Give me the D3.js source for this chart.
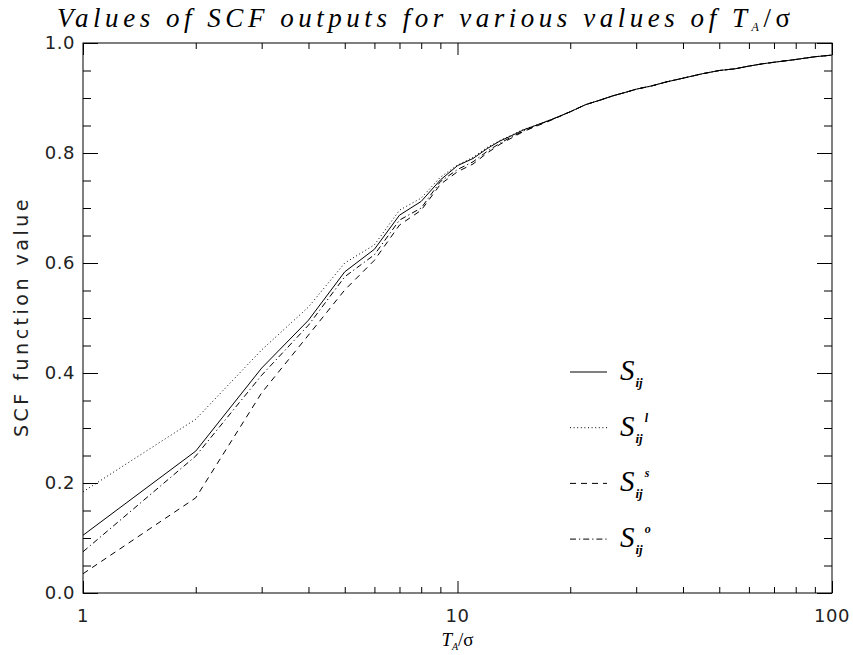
<!DOCTYPE html>
<html>
<head>
<meta charset="utf-8">
<script src="https://cdn.jsdelivr.net/npm/d3@7"></script>
<style>
  body { margin: 0; background: #fff; }
  svg { display: block; }
  .tick-label { font-family: "DejaVu Sans", "Liberation Sans", sans-serif; font-size: 18px; fill: #222; letter-spacing: 0.5px; }
  .serif { font-family: "Liberation Serif", "DejaVu Serif", serif; font-style: italic; }
</style>
</head>
<body>
<div id="chart"></div>
<script>
// T_A / sigma sample points
const ratios = [1, 2, 3, 4, 5, 6, 7, 8, 9, 10, 11, 12, 13, 14, 15, 16, 18, 20, 22, 24,
  26, 28, 30, 33, 36, 40, 45, 50, 55, 60, 65, 70, 80, 90, 100];

// S_ij
const scfMain = [0.105, 0.258, 0.409, 0.496, 0.584, 0.625, 0.687, 0.712, 0.751, 0.777,
  0.790, 0.808, 0.822, 0.832, 0.842, 0.849, 0.862, 0.875, 0.888, 0.896,
  0.904, 0.910, 0.916, 0.922, 0.929, 0.936, 0.944, 0.950, 0.953, 0.958,
  0.962, 0.965, 0.970, 0.975, 0.978];

// S_ij^l
const scfLarge = [0.184, 0.316, 0.442, 0.520, 0.600, 0.633, 0.696, 0.718, 0.756, 0.778,
  0.792, 0.810, 0.823, 0.833, 0.843, 0.849, 0.862, 0.875, 0.888, 0.896,
  0.904, 0.910, 0.916, 0.922, 0.929, 0.936, 0.944, 0.950, 0.953, 0.958,
  0.962, 0.965, 0.970, 0.975, 0.978];

// S_ij^s
const scfSmall = [0.035, 0.173, 0.364, 0.469, 0.551, 0.605, 0.669, 0.696, 0.743, 0.766,
  0.780, 0.800, 0.816, 0.828, 0.839, 0.847, 0.861, 0.875, 0.888, 0.896,
  0.904, 0.910, 0.916, 0.922, 0.929, 0.936, 0.944, 0.950, 0.953, 0.958,
  0.962, 0.965, 0.970, 0.975, 0.978];

// S_ij^o
const scfOther = [0.075, 0.249, 0.396, 0.487, 0.575, 0.615, 0.678, 0.700, 0.748, 0.770,
  0.784, 0.803, 0.818, 0.830, 0.840, 0.848, 0.862, 0.875, 0.888, 0.896,
  0.904, 0.910, 0.916, 0.922, 0.929, 0.936, 0.944, 0.950, 0.953, 0.958,
  0.962, 0.965, 0.970, 0.975, 0.978];

const xMajor = [1, 10, 100];
const xMinor = [2, 3, 4, 5, 6, 7, 8, 9, 20, 30, 40, 50, 60, 70, 80, 90];
const yMajor = [0, 0.2, 0.4, 0.6, 0.8, 1.0];
const yMinor = [0.05, 0.1, 0.15, 0.25, 0.3, 0.35, 0.45, 0.5, 0.55, 0.65, 0.7, 0.75, 0.85, 0.9, 0.95];

const series = [
  { sup: "",  values: scfMain,  dash: null },
  { sup: "l", values: scfLarge, dash: "1,2.6" },
  { sup: "s", values: scfSmall, dash: "6,5" },
  { sup: "o", values: scfOther, dash: "6,3,1.2,3" }
];

const width = 853, height = 655;
const margin = { top: 43, right: 21, bottom: 62, left: 83 };

const svg = d3.select("#chart").append("svg")
  .attr("width", width)
  .attr("height", height);

const x = d3.scaleLog()
  .domain([1, 100])
  .range([margin.left, width - margin.right]);

const y = d3.scaleLinear()
  .domain([0, 1])
  .range([height - margin.bottom, margin.top]);

// frame
svg.append("rect")
  .attr("x", x(1)).attr("y", y(1))
  .attr("width", x(100) - x(1)).attr("height", y(0) - y(1))
  .attr("fill", "none").attr("stroke", "#000").attr("stroke-width", 1);

// inward ticks on all four sides
function tickGroup(axis, transform) {
  const g = svg.append("g").attr("transform", transform).call(axis);
  g.select(".domain").remove();
  g.selectAll(".tick line").attr("stroke", "#000");
  return g;
}

tickGroup(d3.axisBottom(x).tickValues(xMajor).tickSize(-12).tickFormat(""), `translate(0,${y(0)})`);
tickGroup(d3.axisBottom(x).tickValues(xMinor).tickSize(-6).tickFormat(""), `translate(0,${y(0)})`);
tickGroup(d3.axisTop(x).tickValues(xMajor).tickSize(-12).tickFormat(""), `translate(0,${y(1)})`);
tickGroup(d3.axisTop(x).tickValues(xMinor).tickSize(-6).tickFormat(""), `translate(0,${y(1)})`);
tickGroup(d3.axisLeft(y).tickValues(yMajor).tickSize(-15).tickFormat(""), `translate(${x(1)},0)`);
tickGroup(d3.axisLeft(y).tickValues(yMinor).tickSize(-8).tickFormat(""), `translate(${x(1)},0)`);
tickGroup(d3.axisRight(y).tickValues(yMajor).tickSize(-15).tickFormat(""), `translate(${x(100)},0)`);
tickGroup(d3.axisRight(y).tickValues(yMinor).tickSize(-8).tickFormat(""), `translate(${x(100)},0)`);

// tick labels
svg.selectAll(".ylab").data(yMajor).join("text")
  .attr("class", "tick-label")
  .attr("x", x(1) - 8)
  .attr("y", d => y(d))
  .attr("dy", "0.36em")
  .attr("text-anchor", "end")
  .text(d3.format(".1f"));

svg.selectAll(".xlab").data(xMajor).join("text")
  .attr("class", "tick-label")
  .attr("x", d => x(d))
  .attr("y", y(0) + 29)
  .attr("text-anchor", "middle")
  .text(d => d);

// axis titles
svg.append("text")
  .attr("class", "tick-label")
  .attr("transform", `translate(28,${(y(0) + y(1)) / 2}) rotate(-90)`)
  .attr("text-anchor", "middle")
  .attr("textLength", 238)
  .attr("lengthAdjust", "spacing")
  .style("font-size", "19px")
  .text("SCF function value");

const xTitle = svg.append("text")
  .attr("x", x(10))
  .attr("y", y(0) + 53)
  .attr("text-anchor", "middle")
  .style("font-size", "19px");
xTitle.append("tspan").attr("class", "serif").text("T");
xTitle.append("tspan").attr("class", "serif").attr("dy", 4).style("font-size", "10px").text("A");
xTitle.append("tspan").attr("dy", -4).attr("font-family", "Liberation Serif, serif").text("/σ");

const title = svg.append("text")
  .attr("x", 57)
  .attr("y", 27)
  .attr("textLength", 733)
  .attr("lengthAdjust", "spacing")
  .style("font-size", "27px");
title.append("tspan").attr("class", "serif").text("Values of SCF outputs for various values of T");
title.append("tspan").attr("class", "serif").attr("dy", 4).style("font-size", "12px").text("A");
title.append("tspan").attr("dy", -4).attr("font-family", "Liberation Serif, serif").text("/σ");

// curves
const line = d3.line()
  .x(d => x(d[0]))
  .y(d => y(d[1]));

svg.append("g").selectAll("path").data(series).join("path")
  .attr("d", d => line(d3.zip(ratios, d.values)))
  .attr("fill", "none")
  .attr("stroke", "#000")
  .attr("stroke-width", 1)
  .attr("stroke-dasharray", d => d.dash);

// legend
const legend = svg.append("g").attr("transform", "translate(570,372)");
const rows = legend.selectAll("g").data(series).join("g")
  .attr("transform", (d, i) => `translate(0,${i * 55.7})`);

rows.append("line")
  .attr("x1", 0).attr("x2", 37)
  .attr("stroke", "#000").attr("stroke-width", 1)
  .attr("stroke-dasharray", d => d.dash);

const lab = rows.append("text").attr("x", 50).attr("y", 8);
lab.append("tspan").attr("class", "serif").style("font-size", "29px").text("S");
lab.append("tspan").attr("class", "serif").attr("dx", 1).attr("dy", 7)
  .style("font-size", "13px").style("font-weight", "bold").text("ij");
lab.append("tspan").attr("class", "serif").attr("dx", 2).attr("dy", -21)
  .style("font-size", "12px").style("font-weight", "bold").text(d => d.sup);
</script>
</body>
</html>
